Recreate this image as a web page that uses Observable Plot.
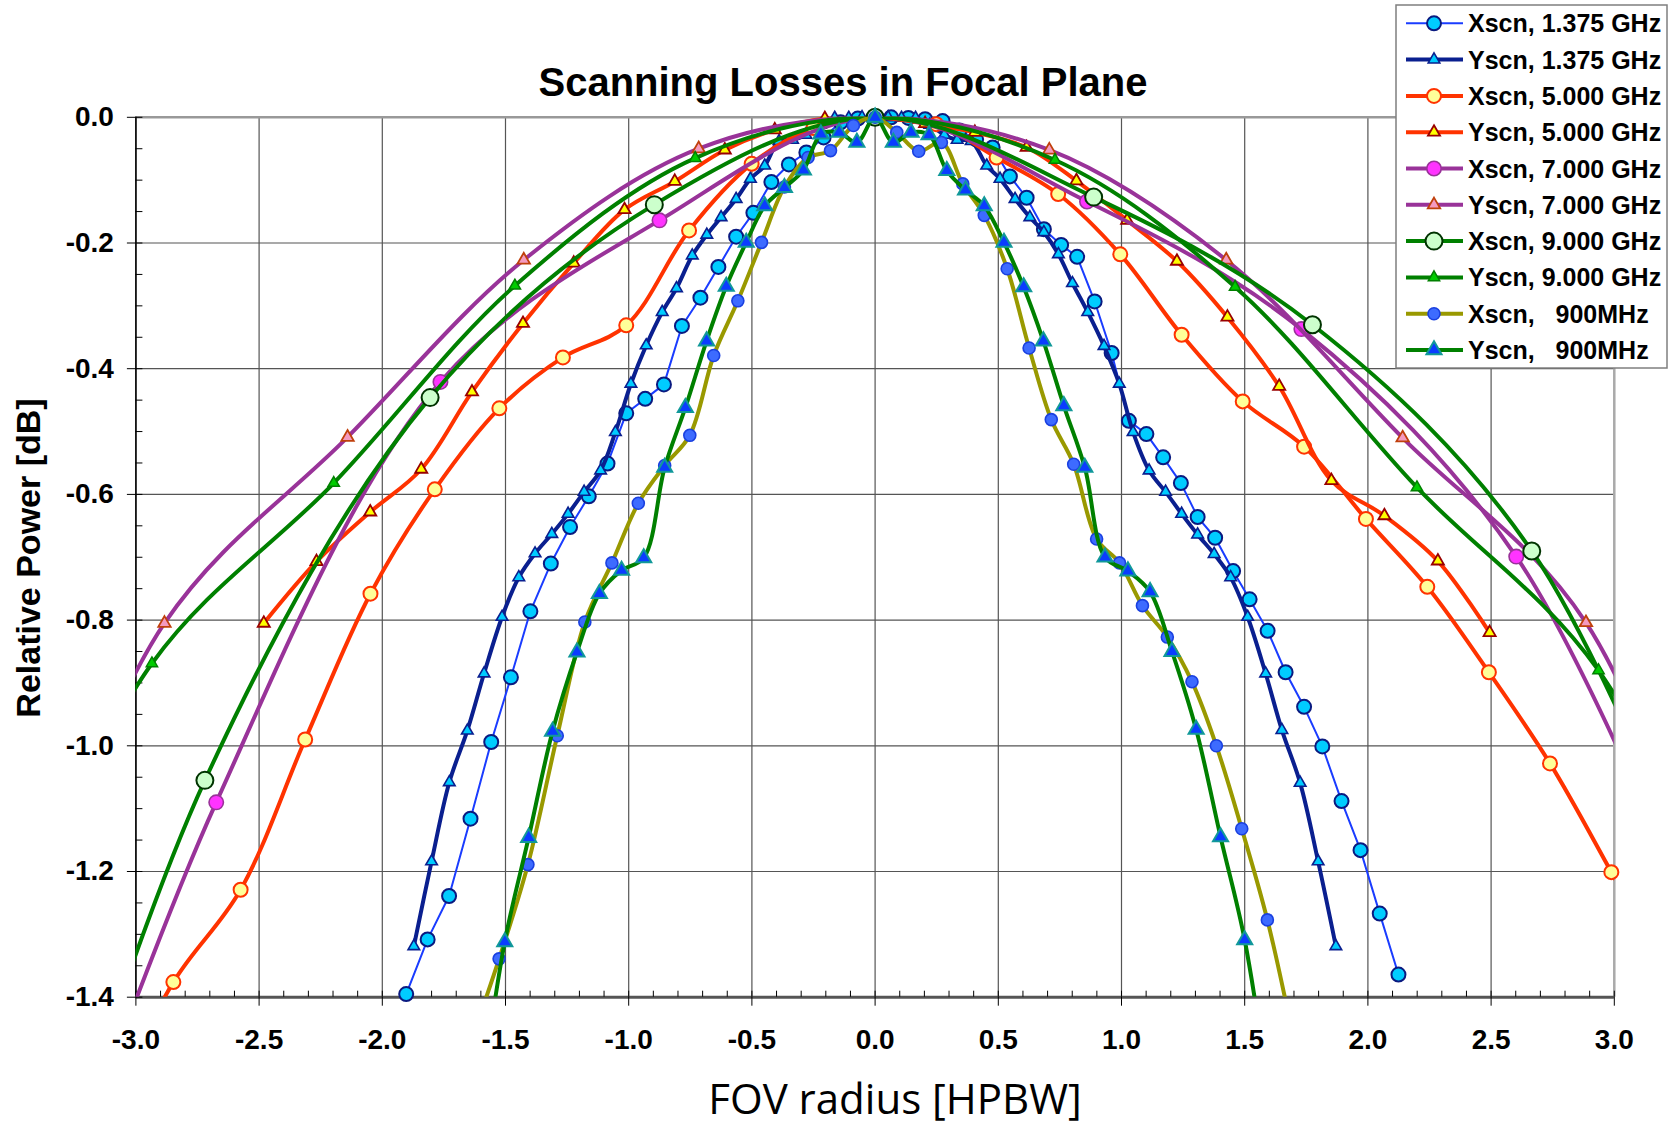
<!DOCTYPE html>
<html>
<head>
<meta charset="utf-8">
<script src="https://cdn.jsdelivr.net/npm/d3@7"></script>
<script src="https://cdn.jsdelivr.net/npm/@observablehq/plot@0.6"></script>
<style>
  html, body { margin: 0; padding: 0; background: #fff; }
  #wrap { position: relative; width: 1669px; height: 1129px; font-family: "Liberation Sans", Arial, sans-serif; }
  #wrap > svg { position: absolute; left: 0; top: 0; }
</style>
</head>
<body>
<div id="wrap"></div>
<script>
// ---------- tick labels ----------
const xTicks = [-3.0, -2.5, -2.0, -1.5, -1.0, -0.5, 0.0, 0.5, 1.0, 1.5, 2.0, 2.5, 3.0];
const yTicks = [0.0, -0.2, -0.4, -0.6, -0.8, -1.0, -1.2, -1.4];
const xDomain = [-3, 3];
const yDomain = [-1.4, 0];

// ---------- series names ----------
const seriesNames = [
  "Xscn, 1.375 GHz", "Yscn, 1.375 GHz",
  "Xscn, 5.000 GHz", "Yscn, 5.000 GHz",
  "Xscn, 7.000 GHz", "Yscn, 7.000 GHz",
  "Xscn, 9.000 GHz", "Yscn, 9.000 GHz",
  "Xscn,   900MHz", "Yscn,   900MHz"
];

// ---------- series values ----------
const xscn1375_x = [-1.903,-1.816,-1.729,-1.642,-1.558,-1.478,-1.399,-1.316,-1.238,-1.162,-1.086,-1.010,-0.933,-0.857,-0.784,-0.709,-0.636,-0.564,-0.494,-0.421,-0.350,-0.279,-0.209,-0.140,-0.070,0,0.065,0.135,0.203,0.274,0.342,0.410,0.477,0.547,0.615,0.685,0.755,0.820,0.891,0.960,1.030,1.101,1.169,1.241,1.309,1.380,1.453,1.520,1.593,1.666,1.741,1.815,1.893,1.970,2.048,2.124];
const xscn1375_y = [-1.395,-1.308,-1.239,-1.116,-0.994,-0.891,-0.786,-0.710,-0.652,-0.603,-0.551,-0.471,-0.448,-0.425,-0.332,-0.287,-0.238,-0.190,-0.152,-0.103,-0.075,-0.056,-0.032,-0.008,-0.002,0,0,-0.001,-0.003,-0.006,-0.021,-0.035,-0.048,-0.094,-0.128,-0.178,-0.203,-0.222,-0.293,-0.375,-0.483,-0.504,-0.541,-0.582,-0.636,-0.669,-0.722,-0.767,-0.817,-0.883,-0.938,-1.001,-1.088,-1.166,-1.267,-1.364];

const yscn1375_x = [-1.872,-1.800,-1.728,-1.655,-1.587,-1.514,-1.446,-1.380,-1.312,-1.246,-1.181,-1.114,-1.054,-0.991,-0.929,-0.864,-0.806,-0.742,-0.683,-0.625,-0.564,-0.506,-0.448,-0.390,-0.335,-0.281,-0.222,-0.164,-0.107,-0.053,0,0.053,0.107,0.164,0.222,0.281,0.333,0.390,0.453,0.507,0.568,0.628,0.685,0.744,0.801,0.863,0.929,0.991,1.047,1.112,1.179,1.244,1.309,1.376,1.443,1.512,1.585,1.651,1.725,1.798,1.870];
const yscn1375_y = [-1.319,-1.184,-1.058,-0.976,-0.885,-0.795,-0.732,-0.694,-0.663,-0.631,-0.596,-0.562,-0.501,-0.424,-0.363,-0.310,-0.272,-0.220,-0.187,-0.159,-0.130,-0.098,-0.077,-0.038,-0.036,-0.028,-0.012,-0.001,-0.001,0,0,0,-0.001,-0.001,-0.012,-0.028,-0.036,-0.038,-0.077,-0.098,-0.130,-0.159,-0.183,-0.218,-0.264,-0.310,-0.364,-0.424,-0.501,-0.562,-0.596,-0.631,-0.664,-0.695,-0.732,-0.795,-0.885,-0.975,-1.059,-1.184,-1.319];

const xscn5_x = [-3.11,-2.848,-2.575,-2.313,-2.048,-1.787,-1.525,-1.267,-1.010,-0.755,-0.501,-0.250,0,0.248,0.493,0.743,0.995,1.244,1.492,1.741,1.992,2.241,2.491,2.739,2.988,3.237];
const xscn5_y = [-1.58,-1.376,-1.229,-0.990,-0.758,-0.592,-0.463,-0.382,-0.331,-0.180,-0.074,-0.017,0,-0.011,-0.064,-0.122,-0.218,-0.346,-0.452,-0.524,-0.639,-0.747,-0.883,-1.028,-1.201,-1.38];

const yscn5_x = [-2.481,-2.267,-2.049,-1.842,-1.636,-1.429,-1.223,-1.017,-0.813,-0.610,-0.407,-0.204,0,0.203,0.405,0.615,0.817,1.023,1.225,1.430,1.640,1.852,2.067,2.284,2.494];
const yscn5_y = [-0.805,-0.707,-0.628,-0.560,-0.437,-0.328,-0.232,-0.147,-0.102,-0.052,-0.020,-0.002,0,-0.010,-0.024,-0.048,-0.101,-0.164,-0.229,-0.318,-0.428,-0.578,-0.634,-0.706,-0.820];

const xscn7_x = [-3.55,-2.674,-1.764,-0.875,0,0.860,1.730,2.602,3.47];
const xscn7_y = [-2.0,-1.090,-0.421,-0.164,0,-0.134,-0.337,-0.699,-1.42];

const yscn7_x = [-3.6,-2.884,-2.141,-1.426,-0.716,0,0.707,1.425,2.141,2.885,3.6];
const yscn7_y = [-1.45,-0.805,-0.509,-0.227,-0.050,0,-0.052,-0.227,-0.510,-0.804,-1.5];

const xscn9_x = [-3.6,-2.72,-1.806,-0.896,0,0.887,1.775,2.665,3.55];
const xscn9_y = [-2.05,-1.055,-0.446,-0.139,0,-0.127,-0.330,-0.690,-1.44];

const yscn9_x = [-3.67,-2.935,-2.197,-1.462,-0.730,0,0.730,1.461,2.199,2.936,3.67];
const yscn9_y = [-1.45,-0.869,-0.582,-0.268,-0.065,0,-0.068,-0.270,-0.589,-0.880,-1.47];

const xscn900_x = [-1.64,-1.526,-1.409,-1.290,-1.178,-1.068,-0.961,-0.854,-0.752,-0.655,-0.557,-0.461,-0.368,-0.272,-0.181,-0.088,0,0.088,0.177,0.269,0.356,0.443,0.536,0.625,0.715,0.806,0.899,0.992,1.085,1.186,1.286,1.385,1.488,1.592,1.695];
const xscn900_y = [-1.47,-1.339,-1.189,-0.984,-0.803,-0.709,-0.614,-0.554,-0.506,-0.379,-0.292,-0.199,-0.111,-0.064,-0.053,-0.013,0,-0.024,-0.054,-0.040,-0.106,-0.156,-0.241,-0.367,-0.481,-0.552,-0.671,-0.709,-0.777,-0.827,-0.898,-1.000,-1.132,-1.277,-1.46];

const yscn900_x = [-1.60,-1.503,-1.406,-1.309,-1.210,-1.119,-1.029,-0.939,-0.854,-0.770,-0.684,-0.604,-0.523,-0.448,-0.368,-0.291,-0.220,-0.146,-0.074,0,0.074,0.146,0.219,0.291,0.367,0.443,0.523,0.603,0.683,0.766,0.851,0.933,1.026,1.116,1.205,1.303,1.402,1.500,1.60];
const yscn900_y = [-1.56,-1.312,-1.146,-0.977,-0.851,-0.758,-0.721,-0.701,-0.557,-0.462,-0.356,-0.269,-0.199,-0.141,-0.112,-0.084,-0.027,-0.024,-0.040,0,-0.040,-0.024,-0.028,-0.085,-0.116,-0.141,-0.199,-0.270,-0.356,-0.459,-0.557,-0.700,-0.722,-0.755,-0.850,-0.974,-1.145,-1.309,-1.56];

const seriesX = [xscn1375_x, yscn1375_x, xscn5_x, yscn5_x, xscn7_x, yscn7_x, xscn9_x, yscn9_x, xscn900_x, yscn900_x];
const seriesY = [xscn1375_y, yscn1375_y, xscn5_y, yscn5_y, xscn7_y, yscn7_y, xscn9_y, yscn9_y, xscn900_y, yscn900_y];

// ---------- styles ----------
const styles = [
  {line: "#1a3cff", lw: 2,   curve: "linear",      symbol: "circle",   r: 7,   fill: "#00ccff", stroke: "#0a1a80", sw: 2},
  {line: "#0a1f8f", lw: 4,   curve: "catmull-rom", symbol: "triangle", r: 4.3, fill: "#00ccff", stroke: "#0a1f8f", sw: 1.6},
  {line: "#ff3300", lw: 4,   curve: "catmull-rom", symbol: "circle",   r: 7,   fill: "#ffff99", stroke: "#ff3300", sw: 2},
  {line: "#ff3300", lw: 4,   curve: "catmull-rom", symbol: "triangle", r: 4.5, fill: "#ffff00", stroke: "#990000", sw: 1.8},
  {line: "#993399", lw: 4,   curve: "catmull-rom", symbol: "circle",   r: 7.2, fill: "#ff33ff", stroke: "#993399", sw: 1.6},
  {line: "#993399", lw: 4,   curve: "catmull-rom", symbol: "triangle", r: 4.6, fill: "#f49ac0", stroke: "#c0400c", sw: 1.8},
  {line: "#008000", lw: 4,   curve: "catmull-rom", symbol: "circle",   r: 8.5, fill: "#ccffcc", stroke: "#003300", sw: 2},
  {line: "#008000", lw: 4,   curve: "catmull-rom", symbol: "triangle", r: 4.2, fill: "#00cc00", stroke: "#008000", sw: 1.5},
  {line: "#999900", lw: 4,   curve: "catmull-rom", symbol: "circle",   r: 6,   fill: "#3d6bff", stroke: "#1a40e0", sw: 1.6},
  {line: "#008000", lw: 4,   curve: "catmull-rom", symbol: "triangle", r: 5.6, fill: "#0a3cff", stroke: "#119999", sw: 2}
];

// ---------- build table ----------
const rows = [];
seriesNames.forEach((name, i) => {
  seriesX[i].forEach((xv, j) => rows.push({series: name, x: xv, y: seriesY[i][j]}));
});
const inFrame = d => d.x >= xDomain[0] && d.x <= xDomain[1] && d.y >= yDomain[0] && d.y <= yDomain[1];

const fmt = d => d.toFixed(1);
const xMinor = d3.range(xDomain[0] * 10, xDomain[1] * 10 + 1).map(i => i / 10);
const yMinor = d3.range(0, 29).map(i => -i * 0.05);

const seriesMarks = [];
seriesNames.forEach((name, i) => {
  const s = styles[i];
  const data = rows.filter(d => d.series === name);
  seriesMarks.push(Plot.line(data, {x: "x", y: "y", stroke: s.line, strokeWidth: s.lw, curve: s.curve, clip: true, strokeLinejoin: "round"}));
  seriesMarks.push(Plot.dot(data.filter(inFrame), {x: "x", y: "y", r: s.r, symbol: s.symbol, fill: s.fill, stroke: s.stroke, strokeWidth: s.sw}));
});

const W = 1669, H = 1129;
const chart = Plot.plot({
  width: W, height: H,
  marginLeft: 135.4, marginRight: 55.2, marginTop: 116.8, marginBottom: 132.3,
  x: {domain: xDomain},
  y: {domain: yDomain},
  style: {fontFamily: '"Liberation Sans", Arial, sans-serif', background: "transparent", color: "#000"},
  marks: [
    Plot.gridX({ticks: xTicks, stroke: "#555", strokeOpacity: 1, strokeWidth: 1.2}),
    Plot.gridY({ticks: yTicks, stroke: "#555", strokeOpacity: 1, strokeWidth: 1.2}),
    Plot.ruleY([yDomain[1]], {stroke: "#999", strokeWidth: 2.5}),
    Plot.ruleX([xDomain[1]], {stroke: "#aaa", strokeWidth: 2.5}),
    Plot.ruleY([yDomain[0]], {stroke: "#555", strokeWidth: 3}),
    Plot.ruleX([xDomain[0]], {stroke: "#000", strokeWidth: 1.5}),
    Plot.axisY({ticks: yTicks, anchor: "left", tickSize: 8.5, tickPadding: 13.5, tickFormat: fmt, fontSize: 28, fontWeight: "bold", label: null}),
    Plot.axisY({ticks: yMinor, anchor: "left", tickSize: 7, dx: 7, tickFormat: () => "", label: null}),
    Plot.axisX({ticks: xTicks, anchor: "bottom", tickSize: 9, tickPadding: 23, tickFormat: fmt, fontSize: 28, fontWeight: "bold", label: null}),
    Plot.axisX({ticks: xMinor, anchor: "bottom", tickSize: 6, dy: -6, tickFormat: () => "", label: null}),
    ...seriesMarks
  ]
});
const wrap = document.getElementById("wrap");
wrap.appendChild(chart);

// ---------- title, axis titles, legend ----------
const ov = d3.select(wrap).append("svg").attr("width", W).attr("height", H)
  .style("font-family", '"Liberation Sans", Arial, sans-serif');
ov.append("text").attr("x", 843).attr("y", 96).attr("text-anchor", "middle")
  .attr("font-size", 40).attr("font-weight", "bold").text("Scanning Losses in Focal Plane");
ov.append("text").attr("transform", "translate(40,558) rotate(-90)").attr("text-anchor", "middle")
  .attr("font-size", 34).attr("font-weight", "bold").text("Relative Power [dB]");
ov.append("text").attr("x", 895).attr("y", 1114).attr("text-anchor", "middle")
  .attr("font-family", '"Open Sans", sans-serif').attr("font-size", 42).text("FOV radius [HPBW]");

const lg = ov.append("g").attr("transform", "translate(1396,5)");
lg.append("rect").attr("width", 271).attr("height", 363).attr("fill", "#fff").attr("stroke", "#7f7f7f").attr("stroke-width", 1.5);
seriesNames.forEach((name, i) => {
  const s = styles[i];
  const g = lg.append("g").attr("transform", `translate(0,${18.3 + i * 36.3})`);
  g.append("line").attr("x1", 10).attr("x2", 67).attr("stroke", s.line).attr("stroke-width", s.lw);
  const sym = d3.symbol(s.symbol === "circle" ? d3.symbolCircle : d3.symbolTriangle, Math.PI * s.r * s.r);
  g.append("path").attr("transform", "translate(38,0)").attr("d", sym())
    .attr("fill", s.fill).attr("stroke", s.stroke).attr("stroke-width", s.sw);
  g.append("text").attr("x", 72).attr("dy", "0.36em").attr("font-size", 25).attr("font-weight", "bold")
    .style("white-space", "pre").text(name);
});
</script>
</body>
</html>
